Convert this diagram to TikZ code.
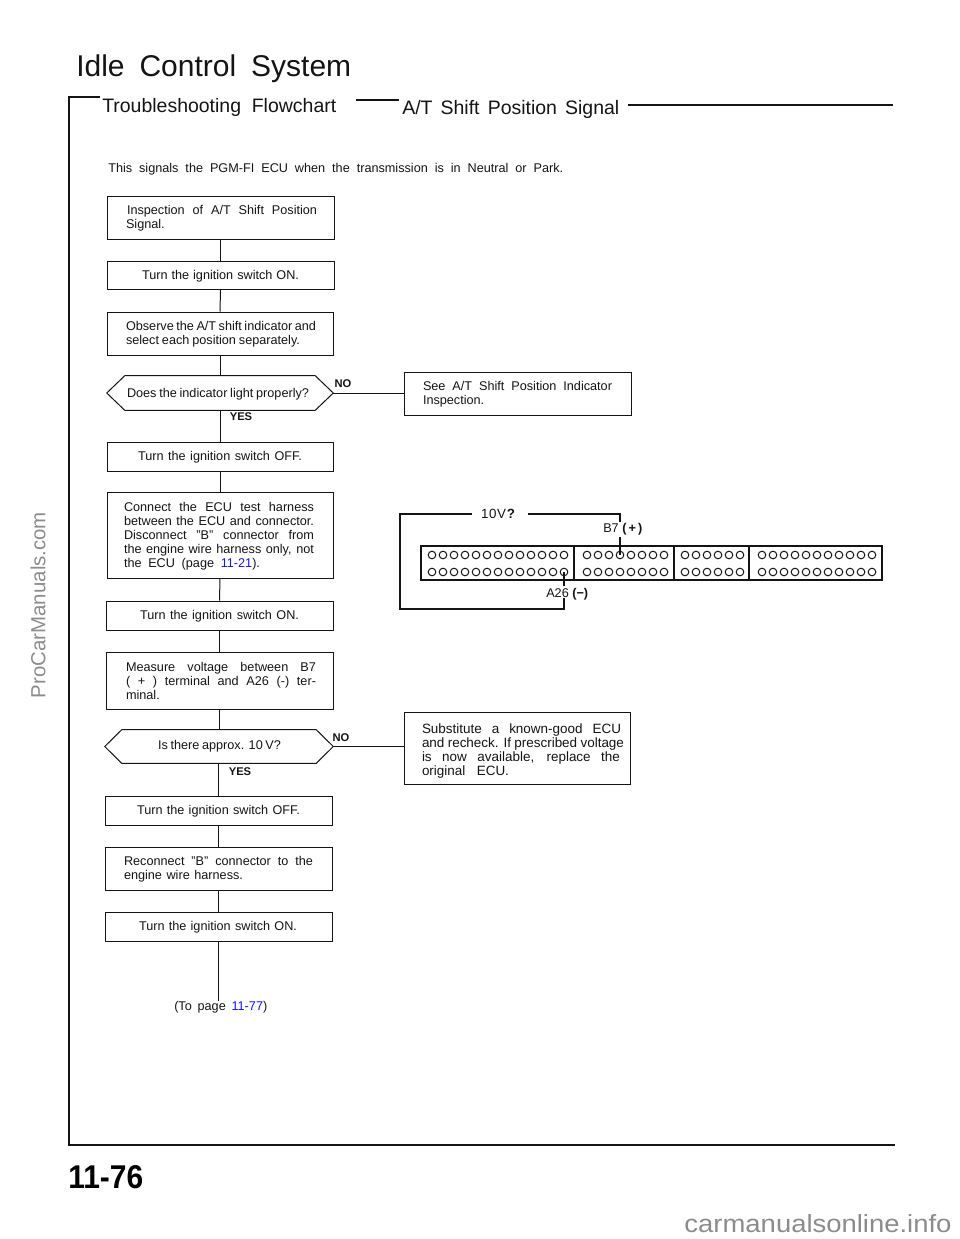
\documentclass[tikz,border=0pt]{standalone}
\usepackage{fontspec}
\usepackage{graphicx}
\setmainfont{Liberation Sans}
\usetikzlibrary{calc}
\newlength\px \setlength\px{.75pt}
\definecolor{ink}{gray}{0.08}
\definecolor{wm}{gray}{0.55}
\definecolor{xref}{RGB}{20,20,235}
\tikzset{
  flow/.style={draw=ink,line width=1\px,rectangle,inner sep=0pt,align=left,text=ink,font=\fontsize{9.5pt}{10.5pt}\selectfont},
  decision/.style={rectangle,inner sep=0pt,align=center,text=ink,font=\fontsize{9.5pt}{10.5pt}\selectfont},
  conn/.style={draw=ink,line width=1\px},
  hex/.style={draw=ink,line width=1\px,line join=miter},
  answer/.style={inner sep=0pt,text=ink,font=\fontsize{8.4pt}{10pt}\selectfont\bfseries},
  plain/.style={inner sep=0pt,text=ink,font=\fontsize{9.5pt}{10.5pt}\selectfont},
  head/.style={inner sep=0pt,text=ink,font=\fontsize{14.6pt}{15pt}\selectfont},
  frameline/.style={draw=ink,line width=2\px},
  wire/.style={draw=ink,line width=1.4\px},
  pin/.style={circle,draw=ink,line width=1\px,minimum size=7.6\px,inner sep=0pt},
  block/.style={draw=ink,line width=2.2\px},
  watermark/.style={inner sep=0pt,text=wm}
}
% one justified line: offset from box left, line width, text
\newcommand{\tl}[3]{\hspace*{#1\px}\makebox[#2\px][s]{\spaceskip=0pt\relax\xspaceskip=0pt\relax #3}}
\newcommand{\dn}{\rule{0pt}{11.5\px}}
\newcommand{\dnn}{\rule{0pt}{15\px}}
% box: name, x1, y1, x2, y2, content
\newcommand{\bx}[6]{%
  \pgfmathsetlengthmacro{\bw}{(#4-#2)*\px}%
  \pgfmathsetlengthmacro{\bh}{(#5-#3)*\px}%
  \node[flow,text width=\bw,minimum height=\bh] (#1) at ({(#2+#4)/2},{(#3+#5)/2}) {#6};}
% decision: name, x1, y1, x2, y2, tip length, content
\newcommand{\dc}[7]{%
  \pgfmathsetlengthmacro{\bw}{(#4-#2)*\px}%
  \pgfmathsetlengthmacro{\bh}{(#5-#3)*\px}%
  \node[decision,minimum width=\bw,minimum height=\bh] (#1) at ({(#2+#4)/2},{(#3+#5)/2}) {#7};
  \draw[hex] (#1.west) -- ($(#1.north west)+(#6,0)$) -- ($(#1.north east)+(-#6,0)$) -- (#1.east)
     -- ($(#1.south east)+(-#6,0)$) -- ($(#1.south west)+(#6,0)$) -- cycle;}
\begin{document}
\begin{tikzpicture}[x=.75pt,y=-.75pt]
\useasboundingbox (0,0) rectangle (960,1239);

% titles and frame
\node[inner sep=0pt,anchor=west,text=ink,font=\fontsize{22.5pt}{24pt}\selectfont] (title) at (76,69) {\makebox[275\px][s]{Idle\ \ Control\ \ System}};
\node[head,anchor=west] (tf) at (102,107) {\makebox[234\px][s]{Troubleshooting Flowchart}};
\node[head,anchor=west] (st) at (402,109) {\makebox[217\px][s]{A/T Shift Position Signal}};
\coordinate (ftl) at (69,97);
\coordinate (fbl) at (69,1145);
\coordinate (fbr) at (895,1145);
\coordinate (ftr) at (893,105);
\coordinate (fta) at (100,97);
\coordinate (m1) at (356,100);
\coordinate (m2) at (399,100);
\coordinate (r1) at (628,105);
\draw[frameline] (fta) -- (ftl) -- (fbl) -- (fbr);
\draw[frameline] (m1) -- (m2);
\draw[frameline] (r1) -- (ftr);
\node[plain,anchor=west] (intro) at (108,169) {\makebox[455\px][s]{This signals the PGM-FI ECU when the transmission is in Neutral or Park.}};

% flow column
\bx{b1}{107}{196}{334}{239}{\dn\tl{20}{190}{Inspection of A/T Shift Position}\\\tl{19}{41}{Signal.}}
\bx{b2}{107}{261}{334}{289}{\dn\tl{35}{157}{Turn the ignition switch ON.}}
\bx{b3}{107}{312}{333}{355}{\dn\tl{19}{190}{Observe the A/T shift indicator and}\\\tl{19}{174}{select each position separately.}}
\dc{d1}{107}{376}{333}{410}{18}{\rule{0pt}{12\px}\hspace*{-4\px}\makebox[182\px][s]{Does the indicator light properly?}}
\bx{b4}{404}{372}{631}{415}{\dn\tl{19}{189}{See A/T Shift Position Indicator}\\\tl{19}{62}{Inspection.}}
\bx{b5}{107}{442}{333}{471}{\dn\tl{31}{164}{Turn the ignition switch OFF.}}
\bx{b6}{107}{492}{333}{578}{\dn\tl{17}{190}{Connect the ECU test harness}\\\tl{17}{190}{between the ECU and connector.}\\\tl{17}{190}{Disconnect "B" connector from}\\\tl{17}{190}{the engine wire harness only, not}\\\tl{17}{136}{the ECU (page \textcolor{xref}{11-21}).}}
\bx{b7}{106}{601}{333}{630}{\dn\tl{34}{159}{Turn the ignition switch ON.}}
\bx{b8}{106}{652}{333}{709}{\tl{20}{190}{Measure voltage between B7}\\\tl{20}{190}{( + ) terminal and A26 (-) ter-}\\\tl{20}{35}{minal.}}
\dc{d2}{105}{730}{333}{763}{17}{\hspace*{1\px}\makebox[123\px][s]{Is there approx. 10 V?}}
\bx{b9}{404}{712}{630}{784}{\fontsize{10.1pt}{10.5pt}\selectfont\dnn\tl{18}{199}{Substitute a known-good ECU}\\\tl{18}{202}{and recheck. If prescribed voltage}\\\tl{18}{198}{is now available, replace the}\\\tl{18}{87}{original ECU.}}
\bx{b10}{105}{796}{332}{825}{\dn\tl{32}{163}{Turn the ignition switch OFF.}}
\bx{b11}{105}{847}{332}{890}{\dn\tl{19}{189}{Reconnect "B" connector to the}\\\tl{19}{119}{engine wire harness.}}
\bx{b12}{105}{912}{332}{941}{\dn\tl{34}{158}{Turn the ignition switch ON.}}
\node[plain,anchor=west] (top) at (174,1007) {\makebox[93\px][s]{(To page \textcolor{xref}{11-77})}};

\draw[conn] (b1.south) -- (b2.north);
\draw[conn] (b2.south) -- (b3.north);
\draw[conn] (b3.south) -- (d1.north);
\draw[conn] (d1.south) -- (b5.north);
\draw[conn] (b5.south) -- (b6.north);
\draw[conn] (b6.south) -- (b7.north);
\draw[conn] (b7.south) -- (b8.north);
\draw[conn] (b8.south) -- (d2.north -| b8.south);
\draw[conn] (d2.south -| b10.north) -- (b10.north);
\draw[conn] (b10.south) -- (b11.north);
\draw[conn] (b11.south) -- (b12.north);
\draw[conn] (b12.south) -- (b12.south |- top.north);
\draw[conn] (d1.east) -- (b4.west |- d1.east);
\draw[conn] (d2.east) -- (b9.west |- d2.east);

\node[answer] (no1) at (343,384) {NO};
\node[answer] (yes1) at (241,417) {YES};
\node[answer] (no2) at (341,738) {NO};
\node[answer] (yes2) at (240,772) {YES};

% connector diagram
\coordinate (cnw) at (421,546);
\coordinate (cse) at (882,580);
\draw[block] (cnw) rectangle (cse);
\foreach \x/\nm in {574/da,674/db,749/dc}{
  \coordinate (\nm t) at (\x,546);
  \coordinate (\nm b) at (\x,580);
  \draw[block] (\nm t) -- (\nm b);
}
\foreach \n/\s/\c in {a/432/13,b/587/8,c/685/6,d/762/11}{
  \foreach \i in {1,...,\c}{
    \node[pin] (\n u\i) at ({\s+(\i-1)*11},555) {};
    \node[pin] (\n l\i) at ({\s+(\i-1)*11},572) {};
  }
}
\node[inner sep=0pt,text=ink,font=\fontsize{10pt}{10.5pt}\selectfont] (v10) at (498,514) {\makebox[34\px][s]{1\hfil 0\hfil V\hfil\textbf{?}}};
\node[plain,anchor=west] (b7l) at (603,529) {B7 \textbf{(\,+\,)}};
\node[plain,anchor=west] (a26l) at (546,594) {A26 \textbf{(−)}};
\coordinate (wl) at (472,514);
\coordinate (wr) at (528,514);
\coordinate (wtl) at (400,514);
\coordinate (wbl) at (400,609);
\coordinate (wbr) at (564,609);
\coordinate (wbe) at (564,598);
\coordinate (wtr) at (620,514);
\coordinate (wte) at (620,522);
\coordinate (bs) at (620,537);
\coordinate (as) at (564,586);
\draw[wire] (wl) -- (wtl) -- (wbl) -- (wbr) -- (wbe);
\draw[wire] (wr) -- (wtr) -- (wte);
\draw[wire] (bs) -- (bu4.center);
\draw[wire] (al13.center) -- (as);

% page number and watermarks
\node[inner sep=0pt,anchor=south west,text=black] (pn) at (68,1189) {\resizebox{75\px}{23\px}{\bfseries 11-76}};
\node[watermark,rotate=90] (wm1) at (38,605) {\resizebox{186\px}{!}{ProCarManuals.com}};
\node[watermark] (wm2) at (818,1224) {\resizebox{267\px}{18\px}{carmanualsonline.info}};
\end{tikzpicture}
\end{document}
